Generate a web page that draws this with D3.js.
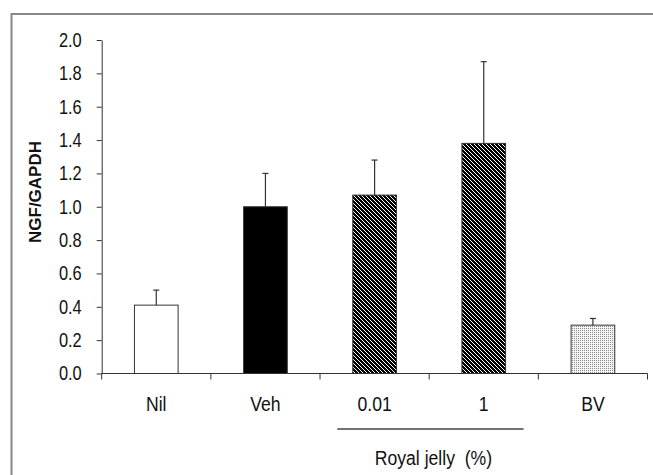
<!DOCTYPE html>
<html><head><meta charset="utf-8">
<script src="https://cdn.jsdelivr.net/npm/d3@7"></script>
<style>body{margin:0;background:#fff}svg{display:block}text{font-family:"Liberation Sans",Arial,sans-serif}</style>
</head><body>
<script>
const categories = ["Nil", "Veh", "0.01", "1", "BV"];
const means = [0.41, 1.00, 1.07, 1.38, 0.29];
const errors = [0.09, 0.20, 0.21, 0.49, 0.04];
const fills = ["white", "black", "url(#hatch)", "url(#hatch)", "url(#dots)"];
const yTicks = [0, 0.2, 0.4, 0.6, 0.8, 1.0, 1.2, 1.4, 1.6, 1.8, 2.0];
const yTitle = "NGF/GAPDH";
const groupLabel = "Royal jelly  (%)";
const groupMembers = ["0.01", "1"];

const W = 653, H = 475;
const svg = d3.select("body").append("svg").attr("width", W).attr("height", H);
const defs = svg.append("defs");
const hatch = defs.append("pattern").attr("id", "hatch").attr("patternUnits", "userSpaceOnUse")
  .attr("width", 4).attr("height", 4);
hatch.append("rect").attr("width", 4).attr("height", 4).attr("fill", "white");
hatch.append("path").attr("d", "M0,0L4,4M-1,3L1,5M3,-1L5,1").attr("stroke", "black")
  .attr("stroke-width", 1.5).attr("shape-rendering", "crispEdges");
const dots = defs.append("pattern").attr("id", "dots").attr("patternUnits", "userSpaceOnUse")
  .attr("width", 2).attr("height", 2);
dots.append("rect").attr("width", 2).attr("height", 2).attr("fill", "#f4f4f4");
dots.append("rect").attr("width", 1).attr("height", 1).attr("fill", "#8a8a8a");

// frame
svg.append("rect").attr("x", 11.5).attr("y", 14).attr("width", 700).attr("height", 500)
  .attr("fill", "none").attr("stroke", "#888").attr("stroke-width", 2);

const x0 = 101.7, x1 = 647.5, yBase = 373.5, yTop = 40;
const x = d3.scaleBand().domain(categories).range([x0, x1]).paddingInner(0.6).paddingOuter(0.3);
const y = d3.scaleLinear().domain([0, 2]).range([yBase, yTop]);
const step = x.step();

const gY = svg.append("g").attr("transform", `translate(${x0},0)`)
  .call(d3.axisLeft(y).tickValues(yTicks).tickFormat(d3.format(".1f")).tickSize(5).tickSizeOuter(0).tickPadding(15));
gY.select(".domain").attr("stroke", "#333");
gY.selectAll(".tick line").attr("stroke", "#333");
gY.selectAll(".tick text").attr("font-size", 20).attr("fill", "#111").attr("data-n", 0.82)
  .attr("font-family", '"Liberation Sans",Arial,sans-serif');

// x axis
const gX = svg.append("g");
gX.append("line").attr("x1", x0).attr("x2", x1).attr("y1", yBase).attr("y2", yBase).attr("stroke", "#333");
const boundaries = categories.map(c => x(c) + x.bandwidth() / 2 - step / 2).concat([x1]);
gX.selectAll("line.t").data(boundaries).join("line").attr("class", "t")
  .attr("x1", d => d).attr("x2", d => d).attr("y1", yBase).attr("y2", yBase + 6).attr("stroke", "#333");
gX.selectAll("text").data(categories).join("text").attr("data-n", 0.88)
  .attr("x", c => x(c) + x.bandwidth() / 2).attr("y", 411).attr("text-anchor", "middle")
  .attr("font-size", 20).attr("fill", "#111").text(c => c);

// bars
svg.selectAll("rect.bar").data(categories).join("rect").attr("class", "bar")
  .attr("x", c => x(c)).attr("width", x.bandwidth())
  .attr("y", (c, i) => y(means[i])).attr("height", (c, i) => yBase - y(means[i]))
  .attr("fill", (c, i) => fills[i]).attr("stroke", "#333").attr("stroke-width", 1);

// error bars
const eb = svg.append("g").attr("stroke", "#333").attr("stroke-width", 1.2);
categories.forEach((c, i) => {
  const cx = x(c) + x.bandwidth() / 2;
  eb.append("line").attr("x1", cx).attr("x2", cx).attr("y1", y(means[i])).attr("y2", y(means[i] + errors[i]));
  eb.append("line").attr("x1", cx - 3).attr("x2", cx + 3).attr("y1", y(means[i] + errors[i])).attr("y2", y(means[i] + errors[i]));
});

// group line + label
const gx0 = x(groupMembers[0]) - 15.5, gx1 = x(groupMembers[1]) + x.bandwidth() + 18;
svg.append("line").attr("x1", gx0).attr("x2", gx1).attr("y1", 429).attr("y2", 429).attr("stroke", "#444").attr("stroke-width", 1.3);
svg.append("text").attr("data-n", 0.88).attr("x", (gx0 + gx1) / 2 + 3).attr("y", 465).attr("text-anchor", "middle")
  .attr("font-size", 20).attr("fill", "#111").attr("xml:space", "preserve").style("white-space", "pre").text(groupLabel);

// y title
svg.append("text").attr("transform", `translate(41,192) rotate(-90)`)
  .attr("text-anchor", "middle").attr("font-size", 17).attr("font-weight", "bold").attr("fill", "#111")
  .text(yTitle);

// condense text horizontally (reference uses a narrow face)
svg.selectAll("text[data-n]").each(function () {
  const L = this.getComputedTextLength();
  d3.select(this).attr("textLength", L * (+this.getAttribute("data-n"))).attr("lengthAdjust", "spacingAndGlyphs");
});
</script>
</body></html>
